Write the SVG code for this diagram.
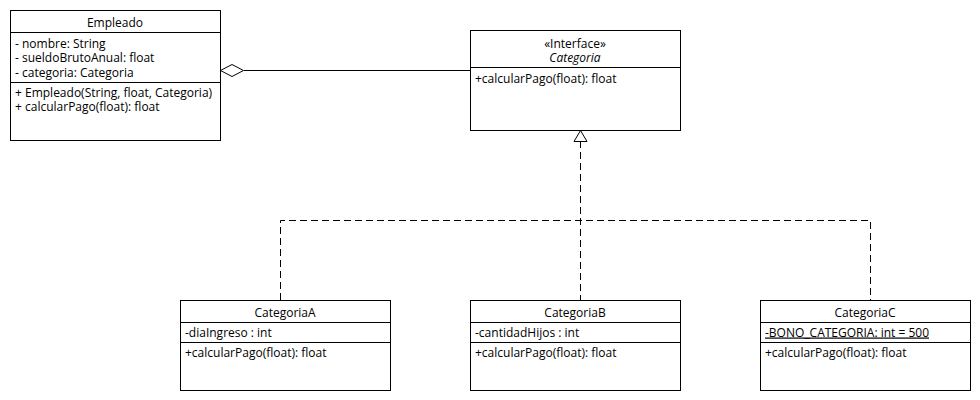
<svg xmlns="http://www.w3.org/2000/svg" width="980" height="400" viewBox="0 0 980 400">
<style>
.box{fill:#fff;stroke:#000;stroke-width:1}
.sep{stroke:#000;stroke-width:1}
.t{font-family:"Open Sans","DejaVu Sans",sans-serif;font-size:12px;fill:#000}
.c{text-anchor:middle}
.dash{fill:none;stroke:#000;stroke-width:1;stroke-dasharray:7 4}
.solid{fill:none;stroke:#000;stroke-width:1}
</style>
<rect width="980" height="400" fill="#fff"/>
<g id="connectors">
  <path class="solid" d="M244 70.5 H470"/>
  <path class="solid" d="M220.5 70.5 L232 64.5 L243.5 70.5 L232 76.5 Z" fill="#fff"/>
  <path class="dash" d="M580.5 141 V300"/>
  <path class="dash" d="M280.5 300 V220.5 H870.5 V300"/>
  <path class="solid" d="M580.5 130.5 L587 141.5 L574 141.5 Z" fill="#fff"/>
</g>
<g id="Empleado">
  <rect class="box" x="10.5" y="10.5" width="210" height="130"/>
  <line class="sep" x1="10.5" y1="32.5" x2="220.5" y2="32.5"/>
  <line class="sep" x1="10.5" y1="82.5" x2="220.5" y2="82.5"/>
  <text class="t c" x="115" y="26.5">Empleado</text>
  <text class="t" x="15" y="47.5">- nombre: String</text>
  <text class="t" x="15" y="62">- sueldoBrutoAnual: float</text>
  <text class="t" x="15" y="76.5">- categoria: Categoria</text>
  <text class="t" x="15" y="97">+ Empleado(String, float, Categoria)</text>
  <text class="t" x="15" y="111">+ calcularPago(float): float</text>
</g>
<g id="Categoria">
  <rect class="box" x="470.5" y="30.5" width="210" height="100"/>
  <line class="sep" x1="470.5" y1="67.5" x2="680.5" y2="67.5"/>
  <text class="t c" x="575" y="47.5">«Interface»</text>
  <text class="t c" x="575" y="61.5" font-style="italic">Categoria</text>
  <text class="t" x="475" y="82.5">+calcularPago(float): float</text>
</g>
<g id="CategoriaA">
  <rect class="box" x="180.5" y="300.5" width="210" height="90"/>
  <line class="sep" x1="180.5" y1="322.5" x2="390.5" y2="322.5"/>
  <line class="sep" x1="180.5" y1="342.5" x2="390.5" y2="342.5"/>
  <text class="t c" x="285" y="316.5">CategoriaA</text>
  <text class="t" x="185" y="336.5">-diaIngreso : int</text>
  <text class="t" x="185" y="356.5">+calcularPago(float): float</text>
</g>
<g id="CategoriaB">
  <rect class="box" x="470.5" y="300.5" width="210" height="90"/>
  <line class="sep" x1="470.5" y1="322.5" x2="680.5" y2="322.5"/>
  <line class="sep" x1="470.5" y1="342.5" x2="680.5" y2="342.5"/>
  <text class="t c" x="575" y="316.5">CategoriaB</text>
  <text class="t" x="475" y="336.5">-cantidadHijos : int</text>
  <text class="t" x="475" y="356.5">+calcularPago(float): float</text>
</g>
<g id="CategoriaC">
  <rect class="box" x="760.5" y="300.5" width="210" height="90"/>
  <line class="sep" x1="760.5" y1="322.5" x2="970.5" y2="322.5"/>
  <line class="sep" x1="760.5" y1="342.5" x2="970.5" y2="342.5"/>
  <text class="t c" x="865" y="316.5">CategoriaC</text>
  <text class="t" x="765" y="336.5" text-decoration="underline">-BONO_CATEGORIA: int = 500</text>
  <text class="t" x="765" y="356.5">+calcularPago(float): float</text>
</g>
</svg>
